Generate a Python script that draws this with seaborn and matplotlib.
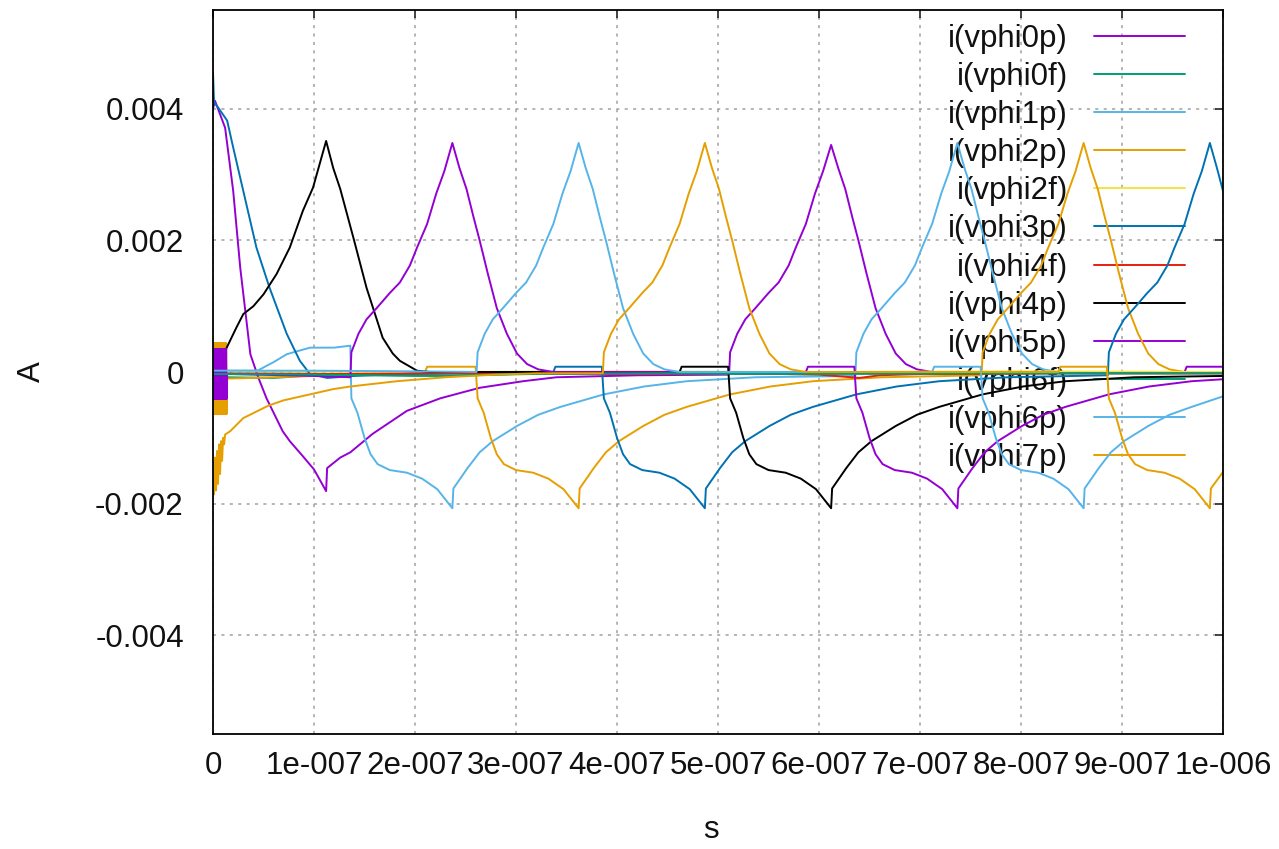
import numpy as np
import matplotlib
matplotlib.use("Agg")
import matplotlib.pyplot as plt
import seaborn as sns
from matplotlib.ticker import FixedLocator, FixedFormatter

# Branch currents of the 8-phase driver: time in ns, current in mA
OSC_T = [0.0, 0.5, 1.0, 1.5, 2.0, 2.5, 3.0, 3.5, 4.0, 4.5, 5.0, 5.5, 6.0, 6.5,
         7.0, 7.5, 8.0, 8.5, 9.0, 9.5, 10.0, 10.5, 11.0, 11.5, 12.0, 12.5, 13.0, 13.5]

vphi0p_t = [0, 2, 12, 20, 27, 37, 45, 53, 69, 76, 89, 100, 112, 113, 126, 136, 158, 192, 225, 264,
            307, 340, 420, 511, 512, 519, 527, 537, 550, 560, 570, 577, 587, 596, 604, 612, 619, 626, 633, 639,
            647, 656, 666, 676, 686, 697, 712, 962, 964, 1000]
vphi0p_i = [4.00, 4.12, 3.71, 2.75, 1.58, 0.27, -0.09, -0.40, -0.90, -1.05, -1.28, -1.48, -1.81, -1.46, -1.30, -1.22, -0.94, -0.59, -0.40, -0.24,
            -0.14, -0.08, -0.05, -0.04, 0.30, 0.58, 0.80, 0.97, 1.20, 1.36, 1.62, 1.89, 2.25, 2.71, 3.05, 3.45, 3.10, 2.78, 2.35, 2.00,
            1.50, 0.97, 0.58, 0.28, 0.12, 0.04, 0.00, 0.00, 0.08, 0.08]

vphi0f_t = [0, 14, 60, 100, 160, 240, 320, 420, 520, 620, 720, 820, 920, 1000]
vphi0f_i = [0.00, -0.08, -0.09, -0.05, -0.04, -0.05, -0.03, -0.02, -0.03, -0.02, -0.03, -0.02, -0.02, -0.02]

vphi1p_t = [0, 44, 60, 73, 96, 120, 136, 137, 143, 150, 156, 163, 175, 192, 207, 222, 237, 238, 252, 264,
            277, 301, 322, 344, 387, 427, 469, 537, 636, 637, 644, 652, 662, 675, 685, 695, 702, 712, 721, 729,
            737, 744, 751, 758, 764, 772, 781, 791, 801, 811, 822, 837, 1000]
vphi1p_i = [0.02, 0.02, 0.15, 0.27, 0.37, 0.37, 0.40, -0.40, -0.62, -1.00, -1.25, -1.40, -1.49, -1.53, -1.62, -1.78, -2.07, -1.77, -1.46, -1.22,
            -1.05, -0.82, -0.65, -0.53, -0.34, -0.22, -0.14, -0.08, -0.06, 0.30, 0.58, 0.80, 0.97, 1.20, 1.36, 1.62, 1.89, 2.25, 2.71, 3.05,
            3.48, 3.10, 2.78, 2.35, 2.00, 1.50, 0.97, 0.58, 0.28, 0.12, 0.04, 0.00, 0.00]

vphi2p_t = OSC_T + [14, 60, 120, 180, 210, 212, 260, 262, 268, 275, 281, 288, 300, 317, 332, 347, 362, 363, 377, 389,
                    402, 426, 447, 469, 512, 552, 594, 662, 761, 762, 769, 777, 787, 800, 810, 820, 827, 837, 846, 854,
                    862, 869, 876, 883, 889, 897, 906, 916, 926, 936, 947, 962, 1000]
vphi2p_i = [0.44, -0.64, 0.44, -0.64, 0.44, -0.64, 0.44, -0.64, 0.44, -0.64, 0.44, -0.64, 0.44, -0.64,
            0.44, -0.64, 0.44, -0.64, 0.44, -0.64, 0.44, -0.64, 0.44, -0.64, 0.44, -0.64, 0.44, -0.64] + \
           [-0.10, -0.08, -0.05, -0.02, 0.00, 0.08, 0.08, -0.40, -0.62, -1.00, -1.25, -1.40, -1.49, -1.53, -1.62, -1.78, -2.07, -1.77, -1.46, -1.22,
            -1.05, -0.82, -0.65, -0.53, -0.34, -0.22, -0.14, -0.08, -0.05, 0.30, 0.58, 0.80, 0.97, 1.20, 1.36, 1.62, 1.89, 2.25, 2.71, 3.05,
            3.48, 3.10, 2.78, 2.35, 2.00, 1.50, 0.97, 0.58, 0.28, 0.12, 0.04, 0.00, 0.00]

vphi2f_t = [0, 200, 400, 600, 800, 1000]
vphi2f_i = [0.01, 0.00, 0.01, 0.00, 0.01, 0.00]

vphi3p_t = [0, 1, 5, 14, 20, 30, 43, 56, 73, 86, 96, 113, 140, 200, 300, 337, 339, 385, 387, 393,
            400, 406, 413, 425, 442, 457, 472, 487, 488, 502, 514, 527, 551, 572, 594, 637, 677, 719, 787, 886,
            887, 894, 902, 912, 925, 935, 945, 952, 962, 971, 979, 987, 994, 1000]
vphi3p_i = [4.55, 4.10, 4.02, 3.82, 3.41, 2.75, 1.89, 1.28, 0.58, 0.17, -0.03, -0.09, -0.06, -0.02, 0.00, 0.00, 0.08, 0.08, -0.40, -0.62,
            -1.00, -1.25, -1.40, -1.49, -1.53, -1.62, -1.78, -2.07, -1.77, -1.46, -1.22, -1.05, -0.82, -0.65, -0.53, -0.34, -0.22, -0.14, -0.08, -0.05,
            0.30, 0.58, 0.80, 0.97, 1.20, 1.36, 1.62, 1.89, 2.25, 2.71, 3.05, 3.48, 3.10, 2.75]

vphi4f_t = [0, 120, 250, 400, 520, 600, 640, 660, 700, 850, 1000]
vphi4f_i = [-0.02, -0.03, -0.02, -0.03, -0.02, -0.04, -0.09, -0.05, -0.03, -0.02, -0.02]

vphi4p_t = [0, 12, 23, 30, 40, 50, 63, 76, 89, 99, 112, 119, 126, 139, 152, 168, 178, 185, 202, 215,
            462, 464, 510, 512, 518, 525, 531, 538, 550, 567, 582, 597, 612, 613, 627, 639, 652, 676, 697, 719,
            762, 802, 844, 912, 1000]
vphi4p_i = [0.30, 0.32, 0.67, 0.88, 1.00, 1.18, 1.49, 1.89, 2.45, 2.80, 3.51, 3.10, 2.78, 2.04, 1.28, 0.52, 0.28, 0.17, 0.02, 0.00,
            0.00, 0.08, 0.08, -0.40, -0.62, -1.00, -1.25, -1.40, -1.49, -1.53, -1.62, -1.78, -2.07, -1.77, -1.46, -1.22, -1.05, -0.82, -0.65, -0.53,
            -0.34, -0.22, -0.14, -0.08, -0.06]

vphi5p_t = OSC_T + [14, 100, 136, 137, 144, 152, 162, 175, 185, 195, 202, 212, 221, 229, 237, 244, 251, 258, 264, 272,
                    281, 291, 301, 311, 322, 337, 587, 589, 635, 637, 643, 650, 656, 663, 675, 692, 707, 722, 737, 738,
                    752, 764, 777, 801, 822, 844, 887, 927, 969, 1000]
vphi5p_i = [0.35, -0.41, 0.35, -0.41, 0.35, -0.41, 0.35, -0.41, 0.35, -0.41, 0.35, -0.41, 0.35, -0.41,
            0.35, -0.41, 0.35, -0.41, 0.35, -0.41, 0.35, -0.41, 0.35, -0.41, 0.35, -0.41, 0.35, -0.41] + \
           [-0.03, -0.06, -0.08, 0.30, 0.58, 0.80, 0.97, 1.20, 1.36, 1.62, 1.89, 2.25, 2.71, 3.05, 3.48, 3.10, 2.78, 2.35, 2.00, 1.50,
            0.97, 0.58, 0.28, 0.12, 0.04, 0.00, 0.00, 0.08, 0.08, -0.40, -0.62, -1.00, -1.25, -1.40, -1.49, -1.53, -1.62, -1.78, -2.07, -1.77,
            -1.46, -1.22, -1.05, -0.82, -0.65, -0.53, -0.34, -0.22, -0.14, -0.11]

vphi6f_t = [0, 100, 200, 235, 300, 450, 600, 800, 1000]
vphi6f_i = [-0.03, -0.04, -0.06, -0.06, -0.03, -0.02, -0.03, -0.02, -0.02]

vphi6p_t = [0, 100, 200, 261, 262, 269, 277, 287, 300, 310, 320, 327, 337, 346, 354, 362, 369, 376, 383, 389,
            397, 406, 416, 426, 436, 447, 462, 712, 714, 760, 762, 768, 775, 781, 788, 800, 817, 832, 847, 862,
            863, 877, 889, 902, 926, 947, 969, 1000]
vphi6p_i = [0.02, 0.02, 0.01, 0.00, 0.30, 0.58, 0.80, 0.97, 1.20, 1.36, 1.62, 1.89, 2.25, 2.71, 3.05, 3.48, 3.10, 2.78, 2.35, 2.00,
            1.50, 0.97, 0.58, 0.28, 0.12, 0.04, 0.00, 0.00, 0.08, 0.08, -0.40, -0.62, -1.00, -1.25, -1.40, -1.49, -1.53, -1.62, -1.78, -2.07,
            -1.77, -1.46, -1.22, -1.05, -0.82, -0.65, -0.53, -0.37]

vphi7p_t = [0, 1, 2, 3, 4, 5, 6, 7, 8, 9, 10, 11, 12, 17, 30, 55, 70, 96, 119, 136,
            182, 230, 280, 320, 386, 387, 394, 402, 412, 425, 435, 445, 452, 462, 471, 479, 487, 494, 501, 508,
            514, 522, 531, 541, 551, 561, 572, 587, 837, 839, 885, 887, 893, 900, 906, 913, 925, 942, 957, 972,
            987, 988, 1000]
vphi7p_i = [-1.70, -1.86, -1.30, -1.80, -1.20, -1.70, -1.10, -1.55, -1.05, -1.35, -1.00, -1.10, -0.95, -0.90, -0.70, -0.51, -0.43, -0.34, -0.26, -0.22,
            -0.14, -0.08, -0.04, -0.02, -0.02, 0.30, 0.58, 0.80, 0.97, 1.20, 1.36, 1.62, 1.89, 2.25, 2.71, 3.05, 3.48, 3.10, 2.78, 2.35,
            2.00, 1.50, 0.97, 0.58, 0.28, 0.12, 0.04, 0.00, 0.00, 0.08, 0.08, -0.40, -0.62, -1.00, -1.25, -1.40, -1.49, -1.53, -1.62, -1.78,
            -2.07, -1.77, -1.52]

series_names = ["i(vphi0p)", "i(vphi0f)", "i(vphi1p)", "i(vphi2p)", "i(vphi2f)", "i(vphi3p)",
                "i(vphi4f)", "i(vphi4p)", "i(vphi5p)", "i(vphi6f)", "i(vphi6p)", "i(vphi7p)"]
series_t = [vphi0p_t, vphi0f_t, vphi1p_t, vphi2p_t, vphi2f_t, vphi3p_t,
            vphi4f_t, vphi4p_t, vphi5p_t, vphi6f_t, vphi6p_t, vphi7p_t]
series_i = [vphi0p_i, vphi0f_i, vphi1p_i, vphi2p_i, vphi2f_i, vphi3p_i,
            vphi4f_i, vphi4p_i, vphi5p_i, vphi6f_i, vphi6p_i, vphi7p_i]
line_colors = ["#9400d3", "#009e73", "#56b4e9", "#e69f00", "#f0e442", "#0072b2",
               "#e51e10", "#000000", "#9400d3", "#009e73", "#56b4e9", "#e69f00"]

x_ticks = [0, 1e-7, 2e-7, 3e-7, 4e-7, 5e-7, 6e-7, 7e-7, 8e-7, 9e-7, 1e-6]
x_tick_labels = ["0", "1e-007", "2e-007", "3e-007", "4e-007", "5e-007",
                 "6e-007", "7e-007", "8e-007", "9e-007", "1e-006"]
y_ticks = [-0.004, -0.002, 0.0, 0.002, 0.004]
y_tick_labels = ["-0.004", "-0.002", "0", "0.002", "0.004"]

sns.set_style("white")
plt.rcParams["font.family"] = ["Liberation Sans", "DejaVu Sans"]
plt.rcParams["text.color"] = "#111111"

FS = 22.5

fig = plt.figure(figsize=(12.79, 8.49), dpi=100)
ax = fig.add_axes([213 / 1279, 1 - 734 / 849, 1010 / 1279, 724 / 849])

for name, t_ns, i_ma, col in zip(series_names, series_t, series_i, line_colors):
    sns.lineplot(x=np.asarray(t_ns) * 1e-9, y=np.asarray(i_ma) * 1e-3, ax=ax,
                 color=col, linewidth=1.4, label=name, sort=False, estimator=None)

ax.set_xlim(0, 1e-6)
ax.set_ylim(-0.0055, 0.0055)
ax.xaxis.set_major_locator(FixedLocator(x_ticks))
ax.xaxis.set_major_formatter(FixedFormatter(x_tick_labels))
ax.yaxis.set_major_locator(FixedLocator(y_ticks))
ax.yaxis.set_major_formatter(FixedFormatter(y_tick_labels))

ax.grid(True, color="#a0a0a0", linestyle=(0, (2.0, 3.5)), linewidth=1.1)
ax.set_axisbelow(True)
for sp in ax.spines.values():
    sp.set_color("#000000")
    sp.set_linewidth(1.3)
    sp.set_visible(True)

ax.tick_params(axis="both", which="major", direction="in", length=6, width=1.1,
               top=True, right=True, labelsize=FS, colors="#111111")
ax.tick_params(axis="x", pad=12)
ax.tick_params(axis="y", pad=21)

ax.set_xlabel("s", fontsize=FS, color="#111111")
ax.set_ylabel("A", fontsize=FS, color="#111111")
ax.xaxis.set_label_coords(0.493, -0.112)
ax.yaxis.set_label_coords(-0.164, 0.5)

leg = ax.legend(loc="upper right", bbox_to_anchor=(0.9624, 0.981), frameon=False,
                markerfirst=False, handlelength=2.9, handletextpad=0.85,
                labelspacing=0.26, borderpad=0, borderaxespad=0, fontsize=FS,
                labelcolor="#111111")
leg.set_zorder(1.8)

fig.savefig("out.png", dpi=100)
